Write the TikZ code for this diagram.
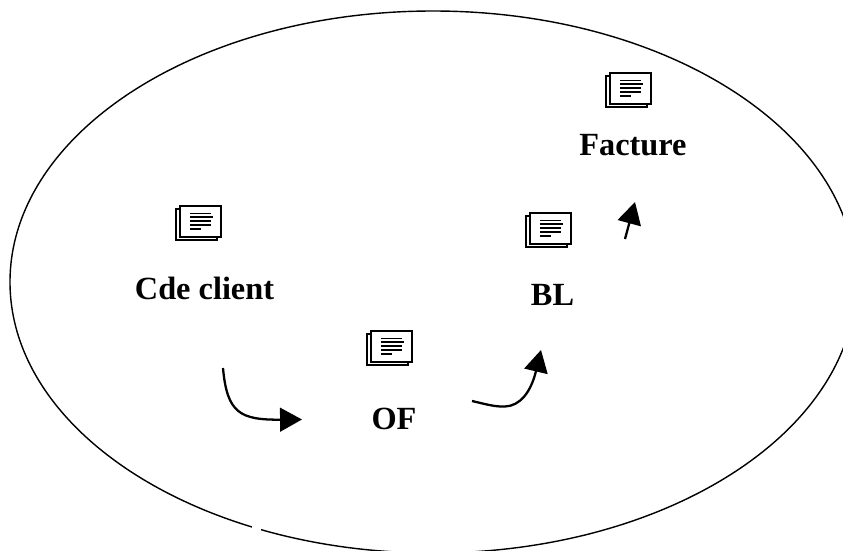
\documentclass[tikz,border=0pt]{standalone}
\usepackage{fontspec}
\setmainfont{Liberation Serif}
\usetikzlibrary{arrows.meta}
\tikzset{
  lbl/.style={font=\fontsize{18.4}{20}\selectfont\bfseries,inner sep=0pt},
  flow/.style={line width=1.3pt,-{Triangle[length=12.5pt,width=13.5pt]}},
  pics/docicon/.style={code={
    \draw[line width=1.1pt,fill=white] (-45,3) rectangle (-4,34);
    \draw[line width=1pt,fill=white] (-41,0) rectangle (0,31);
    \foreach \yy/\xa/\xb in {7.5/-31/-10,11/-31/-8.5,15/-31/-10,19/-31/-10,23/-31/-20}
      \draw[line width=.95pt] (\xa,\yy) -- (\xb,\yy);
  }}
}
\begin{document}
\begin{tikzpicture}[x=0.02cm,y=-0.02cm]
\useasboundingbox (0,0) rectangle (843,551);
\clip (0,0) rectangle (843,551);
\draw[line width=.8pt] (433,282) ellipse [x radius=423,y radius=271];
\fill[white] (252,520) rectangle (261,532);
% documents
\pic at (221,206) {docicon};
\pic at (412,331) {docicon};
\pic at (571,213) {docicon};
\pic at (651,73) {docicon};
\node[lbl] (cde) at (204.5,288) {Cde client};
\node[lbl] (of) at (394,419) {OF};
\node[lbl] (bl) at (552.5,295) {BL};
\node[lbl] (facture) at (633,145) {Facture};
\coordinate (a1) at (223,368);
\coordinate (b1) at (302,419.5);
\coordinate (a2) at (472,401);
\coordinate (m2) at (505,406.5);
\coordinate (b2) at (541,350);
\coordinate (a3) at (625,239);
\coordinate (b3) at (635,202);
\draw[flow] (a1) .. controls (227,413) and (240,420) .. (b1);
\draw[flow] (a2) .. controls (485,404) and (495,407) .. (m2) .. controls (520,406) and (531,392) .. (b2);
\draw[flow] (a3) -- (b3);
\end{tikzpicture}
\end{document}
